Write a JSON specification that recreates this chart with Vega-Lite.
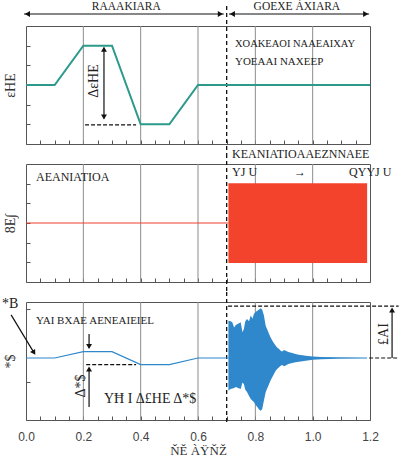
{
  "$schema": "https://vega.github.io/schema/vega-lite/v6.json",
  "padding": {"left": 1, "top": 0, "right": 5, "bottom": 5},
  "spacing": 20,
  "bounds": "flush",
  "config": {
    "view": {"stroke": "#555", "strokeWidth": 1},
    "axis": {"grid": false, "domain": false, "tickColor": "#555", "tickSize": -4, "labels": false, "titleFont": "Liberation Serif", "titleFontWeight": "normal", "titleFontSize": 14, "titleColor": "#333", "labelFont": "Liberation Sans", "labelFontSize": 12, "labelColor": "#444", "labelFlush": false},
    "axisY": {"titlePadding": 8},
    "text": {"font": "Liberation Serif", "fontSize": 11, "color": "#222"},
    "point": {"filled": true, "color": "#111", "size": 35, "opacity": 1, "strokeWidth": 0},
    "rule": {"color": "#111"}
  },
  "vconcat": [
    {
      "width": 344, "height": 118,
      "encoding": {
        "x": {"field": "x", "type": "quantitative", "scale": {"domain": [0, 1.2], "nice": false, "zero": false},
              "axis": {"values": [0,0.05,0.1,0.15,0.2,0.25,0.3,0.35,0.4,0.45,0.5,0.55,0.6,0.65,0.7,0.75,0.8,0.85,0.9,0.95,1.0,1.05,1.1,1.15,1.2], "labels": false, "title": null}},
        "y": {"field": "y", "type": "quantitative", "scale": {"domain": [-3, 3], "nice": false, "zero": false},
              "axis": {"values": [-2, -1, 0, 1, 2], "title": "εΗΕ"}}
      },
      "layer": [
        {"data": {"values": [{"x": 0.2, "y": -3, "y2": 3}, {"x": 0.4, "y": -3, "y2": 3}, {"x": 0.6, "y": -3, "y2": 3}, {"x": 0.8, "y": -3, "y2": 3}, {"x": 1.0, "y": -3, "y2": 3}]},
         "mark": {"type": "rule", "color": "#8c8c8c", "strokeWidth": 1},
         "encoding": {"y2": {"field": "y2"}}},
        {"data": {"values": [{"x": 0.7, "y": 4.02, "y2": -3.51}]},
         "mark": {"type": "rule", "strokeDash": [4, 3], "strokeWidth": 1.3},
         "encoding": {"y2": {"field": "y2"}}},
        {"data": {"values": [{"x": 0, "y": 0}, {"x": 0.1, "y": 0}, {"x": 0.2, "y": 2}, {"x": 0.3, "y": 2}, {"x": 0.4, "y": -2}, {"x": 0.5, "y": -2}, {"x": 0.6, "y": 0}, {"x": 1.2, "y": 0}]},
         "mark": {"type": "line", "color": "#2b9a8b", "strokeWidth": 2}},
        {"data": {"values": [{"x": -0.007, "x2": 0.69, "y": 3.61}, {"x": 0.708, "x2": 1.197, "y": 3.61}]},
         "mark": {"type": "rule", "strokeWidth": 1.2},
         "encoding": {"x2": {"field": "x2"}}},
        {"data": {"values": [{"x": 0.206, "x2": 0.384, "y": -2.03}]},
         "mark": {"type": "rule", "strokeWidth": 1.2, "strokeDash": [4, 2]},
         "encoding": {"x2": {"field": "x2"}}},
        {"data": {"values": [{"x": 0.272, "y": 1.9, "y2": -1.7}]},
         "mark": {"type": "rule", "strokeWidth": 1.2},
         "encoding": {"y2": {"field": "y2"}}},
        {"data": {"values": [{"x": 0.005, "y": 3.61}, {"x": 0.72, "y": 3.61}]},
         "mark": {"type": "point", "shape": "triangle-left"}},
        {"data": {"values": [{"x": 0.678, "y": 3.61}, {"x": 1.185, "y": 3.61}]},
         "mark": {"type": "point", "shape": "triangle-right"}},
        {"data": {"values": [{"x": 0.272, "y": 1.82}]},
         "mark": {"type": "point", "shape": "triangle-up"}},
        {"data": {"values": [{"x": 0.272, "y": -1.63}]},
         "mark": {"type": "point", "shape": "triangle-down"}},
        {"data": {"values": [{"x": 0.35, "y": 3.97, "label": "RAAAKIARA"}, {"x": 0.945, "y": 3.97, "label": "GOEXE ÀXIARA"}]},
         "mark": {"type": "text", "align": "center", "baseline": "middle", "fontSize": 11.5},
         "encoding": {"text": {"field": "label"}}},
        {"data": {"values": [{"x": 0.729, "y": 2.08, "label": "XOAKEAOI NAAEAIXAY"}]},
         "mark": {"type": "text", "align": "left", "baseline": "middle", "fontSize": 10.5},
         "encoding": {"text": {"field": "label"}}},
        {"data": {"values": [{"x": 0.729, "y": 1.17, "label": "YOEAAI NAXEEP"}]},
         "mark": {"type": "text", "align": "left", "baseline": "middle", "fontSize": 11},
         "encoding": {"text": {"field": "label"}}},
        {"data": {"values": [{"x": 0.237, "y": 0.2, "label": "ΔεΗΕ"}]},
         "mark": {"type": "text", "align": "center", "baseline": "middle", "angle": 270, "fontSize": 14},
         "encoding": {"text": {"field": "label"}}}
      ]
    },
    {
      "width": 344, "height": 118,
      "encoding": {
        "x": {"field": "x", "type": "quantitative", "scale": {"domain": [0, 1.2], "nice": false, "zero": false},
              "axis": {"values": [0,0.05,0.1,0.15,0.2,0.25,0.3,0.35,0.4,0.45,0.5,0.55,0.6,0.65,0.7,0.75,0.8,0.85,0.9,0.95,1.0,1.05,1.1,1.15,1.2], "labels": false, "title": null}},
        "y": {"field": "y", "type": "quantitative", "scale": {"domain": [-3, 3], "nice": false, "zero": false},
              "axis": {"values": [-2, -1, 0, 1, 2], "title": "8Ε∫"}}
      },
      "layer": [
        {"data": {"values": [{"x": 0.2, "y": -3, "y2": 3}, {"x": 0.4, "y": -3, "y2": 3}, {"x": 0.6, "y": -3, "y2": 3}, {"x": 0.8, "y": -3, "y2": 3}, {"x": 1.0, "y": -3, "y2": 3}]},
         "mark": {"type": "rule", "color": "#8c8c8c", "strokeWidth": 1},
         "encoding": {"y2": {"field": "y2"}}},
        {"data": {"values": [{"x": 0.7, "y": 3.51, "y2": -3.51}]},
         "mark": {"type": "rule", "strokeDash": [4, 3], "strokeWidth": 1.3},
         "encoding": {"y2": {"field": "y2"}}},
        {"data": {"values": [{"x": 0, "y": 0}, {"x": 0.706, "y": 0}]},
         "mark": {"type": "line", "color": "#f0412b", "strokeWidth": 1.2}},
        {"data": {"values": [{"x": 0.706, "y": 2.02, "y2": -2.03}, {"x": 1.19, "y": 2.02, "y2": -2.03}]},
         "mark": {"type": "area", "color": "#f4432c", "opacity": 1},
         "encoding": {"y2": {"field": "y2"}}},
        {"data": {"values": [{"x": 0.035, "y": 2.34, "label": "AEANIATIOA"}, {"x": 0.719, "y": 3.51, "label": "KEANIATIOAAEZNNAEE"}, {"x": 0.719, "y": 2.59, "label": "YJ U"}, {"x": 0.935, "y": 2.59, "label": "→"}, {"x": 1.127, "y": 2.59, "label": "QYYJ U"}]},
         "mark": {"type": "text", "align": "left", "baseline": "middle", "fontSize": 12},
         "encoding": {"text": {"field": "label"}}}
      ]
    },
    {
      "width": 344, "height": 118,
      "encoding": {
        "x": {"field": "x", "type": "quantitative", "scale": {"domain": [0, 1.2], "nice": false, "zero": false},
              "axis": {"values": [0,0.05,0.1,0.15,0.2,0.25,0.3,0.35,0.4,0.45,0.5,0.55,0.6,0.65,0.7,0.75,0.8,0.85,0.9,0.95,1.0,1.05,1.1,1.15,1.2], "labels": true, "labelPadding": 15, "labelExpr": "(round(datum.value*100) % 20 == 0) ? format(datum.value, '.1f') : ''", "title": "ŇĚ ÀŸŇŽ", "titlePadding": 2, "titleFontSize": 13}},
        "y": {"field": "y", "type": "quantitative", "scale": {"domain": [-2.531, 2.286], "nice": false, "zero": false},
              "axis": {"values": [2, -1], "title": "*$"}}
      },
      "layer": [
        {"data": {"values": [{"x": 0.2, "y": -2.531, "y2": 2.286}, {"x": 0.4, "y": -2.531, "y2": 2.286}, {"x": 0.6, "y": -2.531, "y2": 2.286}, {"x": 0.8, "y": -2.531, "y2": 2.286}, {"x": 1.0, "y": -2.531, "y2": 2.286}]},
         "mark": {"type": "rule", "color": "#8c8c8c", "strokeWidth": 1},
         "encoding": {"y2": {"field": "y2"}}},
        {"data": {"values": [{"x": 0.7, "y": 2.69, "y2": -2.61}]},
         "mark": {"type": "rule", "strokeDash": [4, 3], "strokeWidth": 1.3},
         "encoding": {"y2": {"field": "y2"}}},
        {"data": {"values": [{"x": 0, "y": 0}, {"x": 0.1, "y": 0}, {"x": 0.2, "y": 0.26}, {"x": 0.3, "y": 0.26}, {"x": 0.4, "y": -0.27}, {"x": 0.5, "y": -0.27}, {"x": 0.6, "y": 0}, {"x": 0.706, "y": 0}]},
         "mark": {"type": "line", "color": "#2f88cc", "strokeWidth": 1.2}},
        {"data": {"values": [
          {"x": 0.706, "y": 1.52, "y2": -1.33}, {"x": 0.714, "y": 1.5, "y2": -1.27}, {"x": 0.72, "y": 1.45, "y2": -1.25},
          {"x": 0.726, "y": 1.25, "y2": -1.22}, {"x": 0.732, "y": 1.35, "y2": -1.18}, {"x": 0.74, "y": 1.4, "y2": -1.22},
          {"x": 0.749, "y": 1.46, "y2": -1.27}, {"x": 0.755, "y": 1.05, "y2": -1.0}, {"x": 0.76, "y": 1.18, "y2": -1.06},
          {"x": 0.765, "y": 1.5, "y2": -1.3}, {"x": 0.771, "y": 1.59, "y2": -1.39}, {"x": 0.778, "y": 1.5, "y2": -1.55},
          {"x": 0.784, "y": 1.73, "y2": -1.67}, {"x": 0.79, "y": 1.6, "y2": -1.75}, {"x": 0.795, "y": 1.8, "y2": -1.8},
          {"x": 0.801, "y": 1.88, "y2": -1.92}, {"x": 0.807, "y": 1.93, "y2": -2.0}, {"x": 0.813, "y": 1.98, "y2": -2.1},
          {"x": 0.819, "y": 2.03, "y2": -2.15}, {"x": 0.824, "y": 1.97, "y2": -2.08}, {"x": 0.83, "y": 1.73, "y2": -1.74},
          {"x": 0.836, "y": 1.32, "y2": -1.4}, {"x": 0.842, "y": 1.15, "y2": -1.22}, {"x": 0.848, "y": 0.98, "y2": -1.06},
          {"x": 0.853, "y": 0.85, "y2": -0.92}, {"x": 0.859, "y": 0.71, "y2": -0.79}, {"x": 0.865, "y": 0.6, "y2": -0.65},
          {"x": 0.871, "y": 0.5, "y2": -0.52}, {"x": 0.877, "y": 0.42, "y2": -0.44}, {"x": 0.883, "y": 0.37, "y2": -0.38},
          {"x": 0.888, "y": 0.3, "y2": -0.32}, {"x": 0.894, "y": 0.27, "y2": -0.29}, {"x": 0.9, "y": 0.33, "y2": -0.34},
          {"x": 0.906, "y": 0.3, "y2": -0.31}, {"x": 0.915, "y": 0.24, "y2": -0.25}, {"x": 0.929, "y": 0.2, "y2": -0.2},
          {"x": 0.94, "y": 0.16, "y2": -0.17}, {"x": 0.952, "y": 0.13, "y2": -0.15}, {"x": 0.976, "y": 0.09, "y2": -0.11},
          {"x": 1.0, "y": 0.06, "y2": -0.07}, {"x": 1.03, "y": 0.04, "y2": -0.05}, {"x": 1.09, "y": 0.03, "y2": -0.03},
          {"x": 1.19, "y": 0.02, "y2": -0.02}]},
         "mark": {"type": "area", "color": "#2f88cc", "opacity": 1},
         "encoding": {"y2": {"field": "y2"}}},
        {"data": {"values": [{"x": 0.705, "x2": 1.3, "y": 2.12}, {"x": 1.197, "x2": 1.3, "y": 0}, {"x": 0.21, "x2": 0.384, "y": -0.27}]},
         "mark": {"type": "rule", "strokeWidth": 1.2, "strokeDash": [4, 2]},
         "encoding": {"x2": {"field": "x2"}}},
        {"data": {"values": [{"x": 0.22, "y": 0.98, "y2": 0.42}, {"x": 0.22, "y": -2.0, "y2": -0.42}, {"x": 1.277, "y": 0, "y2": 1.9}]},
         "mark": {"type": "rule", "strokeWidth": 1.2},
         "encoding": {"y2": {"field": "y2"}}},
        {"data": {"values": [{"x": -0.052, "y": 1.76, "x2": 0.0277, "y2": 0.22}]},
         "mark": {"type": "rule", "strokeWidth": 1.2},
         "encoding": {"x2": {"field": "x2"}, "y2": {"field": "y2"}}},
        {"data": {"values": [{"x": 0.22, "y": 0.47}]},
         "mark": {"type": "point", "shape": "triangle-down"}},
        {"data": {"values": [{"x": 0.22, "y": -0.45}, {"x": 1.277, "y": 1.96}]},
         "mark": {"type": "point", "shape": "triangle-up"}},
        {"data": {"values": [{"x": 0.0277, "y": 0.22}]},
         "mark": {"type": "point", "shape": "triangle-up", "angle": 148.6}},
        {"data": {"values": [{"x": 0.035, "y": 1.51, "label": "YAI BXAE AENEAIEIEL"}]},
         "mark": {"type": "text", "align": "left", "baseline": "middle", "fontSize": 11},
         "encoding": {"text": {"field": "label"}}},
        {"data": {"values": [{"x": 0.272, "y": -1.67, "label": "YĦ I Δ£ΗΕ Δ*$"}, {"x": -0.084, "y": 2.2, "label": "*B"}]},
         "mark": {"type": "text", "align": "left", "baseline": "middle", "fontSize": 14},
         "encoding": {"text": {"field": "label"}}},
        {"data": {"values": [{"x": 0.192, "y": -1.14, "label": "Δ*$"}, {"x": 1.249, "y": 0.98, "label": "£ΑΙ"}]},
         "mark": {"type": "text", "align": "center", "baseline": "middle", "angle": 270, "fontSize": 14},
         "encoding": {"text": {"field": "label"}}}
      ]
    }
  ]
}
